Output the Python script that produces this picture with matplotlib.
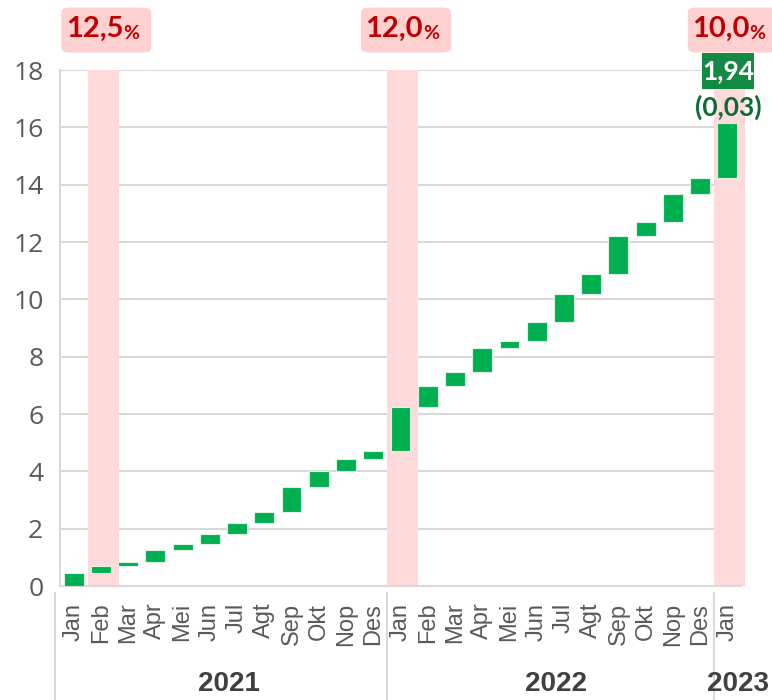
import matplotlib.pyplot as plt
import matplotlib.transforms as mtransforms
from matplotlib.patches import FancyBboxPatch, Rectangle
import numpy as np

months = ['Jan', 'Feb', 'Mar', 'Apr', 'Mei', 'Jun', 'Jul', 'Agt', 'Sep', 'Okt', 'Nop', 'Des',
          'Jan', 'Feb', 'Mar', 'Apr', 'Mei', 'Jun', 'Jul', 'Agt', 'Sep', 'Okt', 'Nop', 'Des',
          'Jan']
years = ['2021', '2022', '2023']
year_counts = [12, 12, 1]
# monthly increments (waterfall steps)
steps = [0.44, 0.27, 0.13, 0.43, 0.21, 0.35, 0.36, 0.39, 0.87, 0.57, 0.41, 0.29,
         1.51, 0.76, 0.47, 0.83, 0.26, 0.67, 0.95, 0.72, 1.31, 0.51, 0.95, 0.56,
         1.94]
# highlighted months with rate labels
hl_idx = [1, 12, 24]
hl_rates = ['12,5', '12,0', '10,0']
last_label = '1,94'
last_sub = '(0,03)'

green = '#00B050'
pink = '#FFDADA'
dark_red = '#C00000'
grid_c = '#D9D9D9'
txt_c = '#595959'

tops = np.cumsum(steps)
bottoms = tops - np.array(steps)
x = np.arange(len(months))

fig = plt.figure(figsize=(7.72, 7), dpi=100)
ax = fig.add_axes([60/772, 114/700, 681/772, 516/700])

# highlighted bands
for i in hl_idx:
    ax.bar(i + 0.08, 18, bottom=0, width=1.14, color=pink, zorder=1, clip_on=False)

ax.bar(x, steps, bottom=bottoms, width=0.73, color=green, edgecolor='#DFF3E5',
       linewidth=0.8, zorder=3)

ax.set_xlim(-0.5, len(months) - 0.5)
ax.set_ylim(0, 18)
ax.set_yticks(np.arange(0, 19, 2))
ax.yaxis.grid(True, color=grid_c, linewidth=1.5, zorder=0)
ax.set_axisbelow(True)
for s in ['top', 'right']:
    ax.spines[s].set_visible(False)
ax.spines['left'].set_color(grid_c)
ax.spines['left'].set_linewidth(1.5)
ax.spines['bottom'].set_color(grid_c)
ax.spines['bottom'].set_linewidth(1.5)

ax.tick_params(axis='y', length=0, pad=12, labelsize=19, labelcolor=txt_c)
for t in ax.get_yticklabels():
    t.set_family('Open Sans')
ax.set_xticks(x)
ax.set_xticklabels(months, rotation=90, fontsize=17, color=txt_c,
                   family=['Liberation Sans Narrow', 'Liberation Sans'])
ax.tick_params(axis='x', length=0, pad=12)

# year groups
trans = mtransforms.blended_transform_factory(ax.transData, ax.transAxes)
edges = np.concatenate([[0], np.cumsum(year_counts)]) - 0.5
seps = edges.copy()
seps[0] -= 0.18
seps[-1] = edges[-2] + 0.2
for sx in seps[:-1]:
    ax.plot([sx, sx], [-0.014, -0.23], transform=trans, color=grid_c, lw=1.5,
            clip_on=False)
for yi, yr in enumerate(years):
    cx = (edges[yi] + edges[yi + 1]) / 2
    if yi == len(years) - 1:
        cx = edges[yi] + 0.7
    ax.text(cx + 0.2, -0.19, yr, transform=trans, ha='center', va='center',
            fontsize=20, fontweight='bold', color='#404040',
            family=['Liberation Sans Narrow', 'Liberation Sans'])

# rate labels
for i, r in zip(hl_idx, hl_rates):
    cx = i + 0.2
    box = FancyBboxPatch((cx - 1.65, 1.034), 3.3, 0.087, transform=trans,
                         boxstyle='round,pad=0,rounding_size=0.3',
                         mutation_aspect=0.03,
                         facecolor='#FFD0D0', edgecolor='none', clip_on=False)
    ax.add_patch(box)
    ax.text(cx + 0.62, 1.079, r, transform=trans, ha='right', va='center',
            fontsize=21, fontweight='bold', color=dark_red, family='Lato')
    ax.text(cx + 0.62, 1.071, '%', transform=trans, ha='left', va='center',
            fontsize=14, fontweight='bold', color=dark_red, family='Lato')

# last bar labels
li = len(months) - 1
ax.add_patch(Rectangle((li - 0.92, 0.963), 1.9, 0.07, transform=trans,
                       facecolor='#138A43', edgecolor='none', clip_on=False, zorder=5))
ax.text(li + 0.03, 0.998, last_label, transform=trans, ha='center', va='center',
        fontsize=19, fontweight='bold', color='white', family='Lato', zorder=6)
ax.text(li + 0.03, 0.927, last_sub, transform=trans, ha='center', va='center',
        fontsize=19, fontweight='bold', color='#0E6B35', family='Lato', zorder=6)

fig.savefig('out.png', dpi=100)
